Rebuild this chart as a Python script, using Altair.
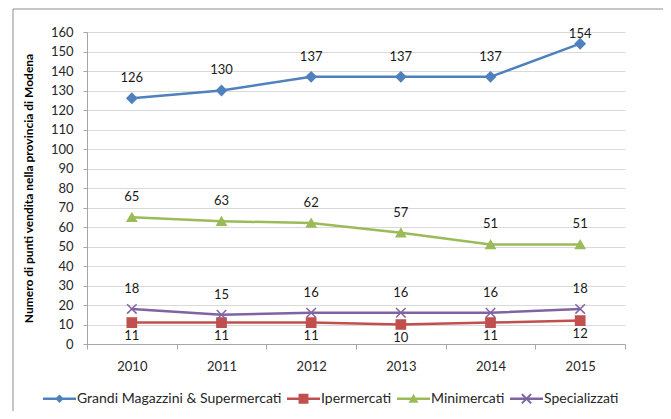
import altair as alt
import pandas as pd

years = ["2010", "2011", "2012", "2013", "2014", "2015"]
series_names = ["Grandi Magazzini & Supermercati", "Ipermercati", "Minimercati", "Specializzati"]
grandi = [126, 130, 137, 137, 137, 154]
iper = [11, 11, 11, 10, 11, 12]
mini = [65, 63, 62, 57, 51, 51]
spec = [18, 15, 16, 16, 16, 18]
colors = ["#4F81BD", "#C0504D", "#9BBB59", "#8064A2"]
point_shapes = ["diamond", "square", "triangle-up", "M-1,-1L1,1M1,-1L-1,1"]
point_sizes = [95, 85, 85, 90]
LINE = "M-1,-0.078L1,-0.078L1,0.078L-1,0.078Z"
legend_shapes = [
    LINE + "M0,-0.26L0.26,0L0,0.26L-0.26,0Z",
    LINE + "M-0.3,-0.3L0.3,-0.3L0.3,0.3L-0.3,0.3Z",
    LINE + "M0,-0.3L0.3,0.24L-0.3,0.24Z",
    LINE + "M-0.235,-0.325L0.325,0.235L0.235,0.325L-0.325,-0.235Z"
           "M0.325,-0.235L-0.235,0.325L-0.325,0.235L0.235,-0.325Z",
]

rows = []
for name, vals in zip(series_names, [grandi, iper, mini, spec]):
    for yr, v in zip(years, vals):
        rows.append({"year": yr, "series": name, "value": v})
df = pd.DataFrame(rows)

color_scale = alt.Scale(domain=series_names, range=colors)
x_axis = alt.Axis(title=None, tickBand="extent", labelAngle=0, labelFontSize=13,
                  labelFont="Lato", labelColor="#262626", labelPadding=11,
                  tickSize=5, domainColor="#a6a6a6", tickColor="#a6a6a6", grid=False)
x_enc = alt.X("year:O", sort=years,
              scale=alt.Scale(type="band", paddingInner=0, paddingOuter=0), axis=x_axis)
y_scale = alt.Scale(domain=[0, 160], nice=False, zero=True)
y_axis = alt.Axis(values=list(range(0, 161, 10)),
                  title="Numero di punti vendita nella provincia di Modena",
                  titleFont="Lato", titleFontSize=12, titleFontWeight="bold",
                  titleColor="#000000", titlePadding=15,
                  labelFontSize=13, labelFont="Lato", labelColor="#262626",
                  labelPadding=10, tickSize=4, domainColor="#a6a6a6",
                  tickColor="#a6a6a6", gridColor="#d9d9d9", grid=True)
y_enc = alt.Y("value:Q", scale=y_scale, axis=y_axis)

base = alt.Chart(df)

series_layers = []
for name, col in zip(series_names, colors):
    series_layers.append(
        base.transform_filter(alt.datum.series == name).mark_line(
            strokeWidth=2.5, stroke=col
        ).encode(x=x_enc, y=y_enc)
    )
for name, shp, col, sz in zip(series_names, point_shapes, colors, point_sizes):
    series_layers.append(
        base.transform_filter(alt.datum.series == name).mark_point(
            shape=shp, filled=True, size=sz, fill=col, stroke=col, strokeWidth=1.5, opacity=1
        ).encode(x=x_enc, y=y_enc)
    )

labels = base.transform_calculate(
    label_y="datum.series == 'Ipermercati' ? datum.value - 6.9 : min(datum.value + 10.3, 158.8)"
).mark_text(font="Lato", fontSize=13, color="#1a1a1a", baseline="middle").encode(
    x=x_enc,
    y=alt.Y("label_y:Q", scale=y_scale, axis=y_axis),
    text="value:Q",
)

legend_layer = base.transform_filter("false").mark_point(filled=True, opacity=1).encode(
    x=x_enc, y=y_enc,
    color=alt.Color("series:N", scale=color_scale, legend=alt.Legend(title=None)),
    shape=alt.Shape("series:N", scale=alt.Scale(domain=series_names, range=legend_shapes),
                    legend=alt.Legend(title=None)),
)

frame = alt.Chart(alt.Data(values=[{"f": 1}])).mark_rect(
    fill="white", fillOpacity=0, stroke="#8c8c8c", strokeWidth=1
).encode(
    x=alt.value(-74), x2=alt.value(577), y=alt.value(-23), y2=alt.value(384)
)

chart = alt.layer(frame, *series_layers, labels, legend_layer).properties(
    width=538, height=312,
    autosize=alt.AutoSizeParams(type="none"),
    padding={"left": 79, "top": 24, "right": 38, "bottom": 67},
    background="white",
).configure_view(stroke=None).configure_legend(
    orient="none", legendX=-44, legendY=350, direction="horizontal", columns=4,
    symbolSize=1089, symbolStrokeWidth=0, labelFontSize=14, labelFont="Lato",
    labelColor="#262626", columnPadding=5, labelOffset=1, padding=0, labelLimit=0,
    symbolOpacity=1,
)

chart.save("out.html", embed_options={"renderer": "svg", "actions": False})
